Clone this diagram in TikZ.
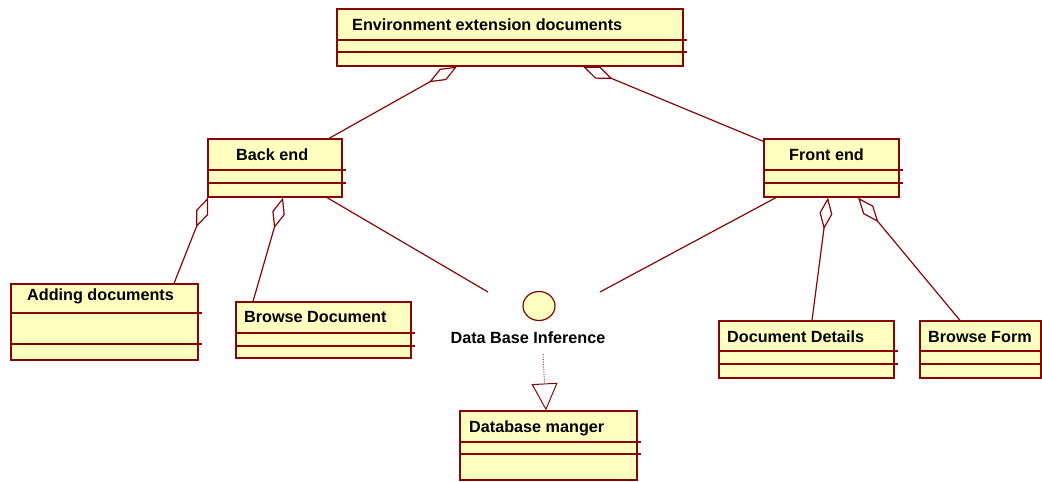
\documentclass[tikz,border=0pt]{standalone}
\usepackage{fontspec}
\setmainfont{Liberation Sans}
\usetikzlibrary{arrows.meta,fit,shapes.geometric}

\definecolor{roseline}{RGB}{135,5,5}
\definecolor{rosefill}{RGB}{255,255,192}

\tikzset{
  classbox/.style={draw=roseline, fill=rosefill, line width=1.2pt, inner sep=0pt},
  classline/.style={roseline, line width=1.2pt},
  classtitle/.style={font=\fontsize{16.2}{19}\selectfont\bfseries, anchor=base west, inner sep=0pt},
  aggr/.style={roseline, line width=1.2pt, {Diamond[open,length=32pt,width=13pt]}-},
  assoc/.style={roseline, line width=1.2pt},
  realize/.style={roseline!80, line width=1pt, dash pattern=on 1pt off 1.5pt,
    -{Triangle[open,length=27pt,width=26pt,color=roseline]}}
}

% name, top left, bottom right, 1st line y, 2nd line y, title position, title
\newcommand{\umlclass}[7]{%
  \node[classbox, fit={(#2) (#3)}] (#1) {};
  \draw[classline] (#1.west |- 0,#4) -- ([xshift=3pt]#1.east |- 0,#4);
  \draw[classline] (#1.west |- 0,#5) -- ([xshift=3pt]#1.east |- 0,#5);
  \node[classtitle] (#1-title) at (#6) {#7};
}

\begin{document}
\begin{tikzpicture}[x=1pt,y=-1pt]
    % Frame of the picture
    \useasboundingbox (0,0) rectangle (1042,482);

    % Classes
    \umlclass{env}{337,9}{683,66}{40}{52}{352,30}{Environment extension documents}
    \umlclass{back}{208,139}{342,197}{170}{183}{236,160}{Back end}
    \umlclass{front}{764,139}{899,197}{170}{183}{789,160}{Front end}
    \umlclass{add}{11,284}{198,360}{313}{344}{27,300}{Adding documents}
    \umlclass{bdoc}{236,302}{411,358}{333}{346}{244,322}{Browse Document}
    \umlclass{docd}{719,321}{894,378}{351}{364}{727,342}{Document Details}
    \umlclass{bform}{920,321}{1041,378}{351}{364}{928,342}{Browse Form}
    \umlclass{dbm}{460,411}{637,480}{442}{454}{469,432}{Database manger}

    % Interface
    \node[draw=roseline, fill=rosefill, line width=1.2pt, ellipse,
          minimum width=32pt, minimum height=29pt, inner sep=0pt] (iface) at (539,306) {};
    \node[font=\fontsize{16.2}{19}\selectfont\bfseries, anchor=base, inner sep=0pt]
          (iface-title) at (528,343) {Data Base Inference};
    \coordinate (iface-l) at (488,292);
    \coordinate (iface-r) at (600,292);
    \coordinate (iface-d) at (543,354);

    % Aggregations
    \draw[aggr] (env.south -| 457,0) -- (back.north -| 329,0);
    \draw[aggr] (env.south -| 583,0) -- ([yshift=-3pt]front.north west);
    \draw[aggr] (back.south -| 208,0) -- (add.north -| 174,0);
    \draw[aggr] (back.south -| 283,0) -- (bdoc.north -| 253,0);
    \draw[aggr] (front.south -| 828,0) -- (docd.north -| 812,0);
    \draw[aggr] (front.south -| 858,0) -- (bform.north -| 960,0);

    % Links to the interface
    \draw[assoc] (back.south -| 327,0) -- (iface-l);
    \draw[assoc] (front.south -| 776,0) -- (iface-r);
    \draw[realize] (iface-d) -- (dbm.north -| 546,0);
\end{tikzpicture}
\end{document}
